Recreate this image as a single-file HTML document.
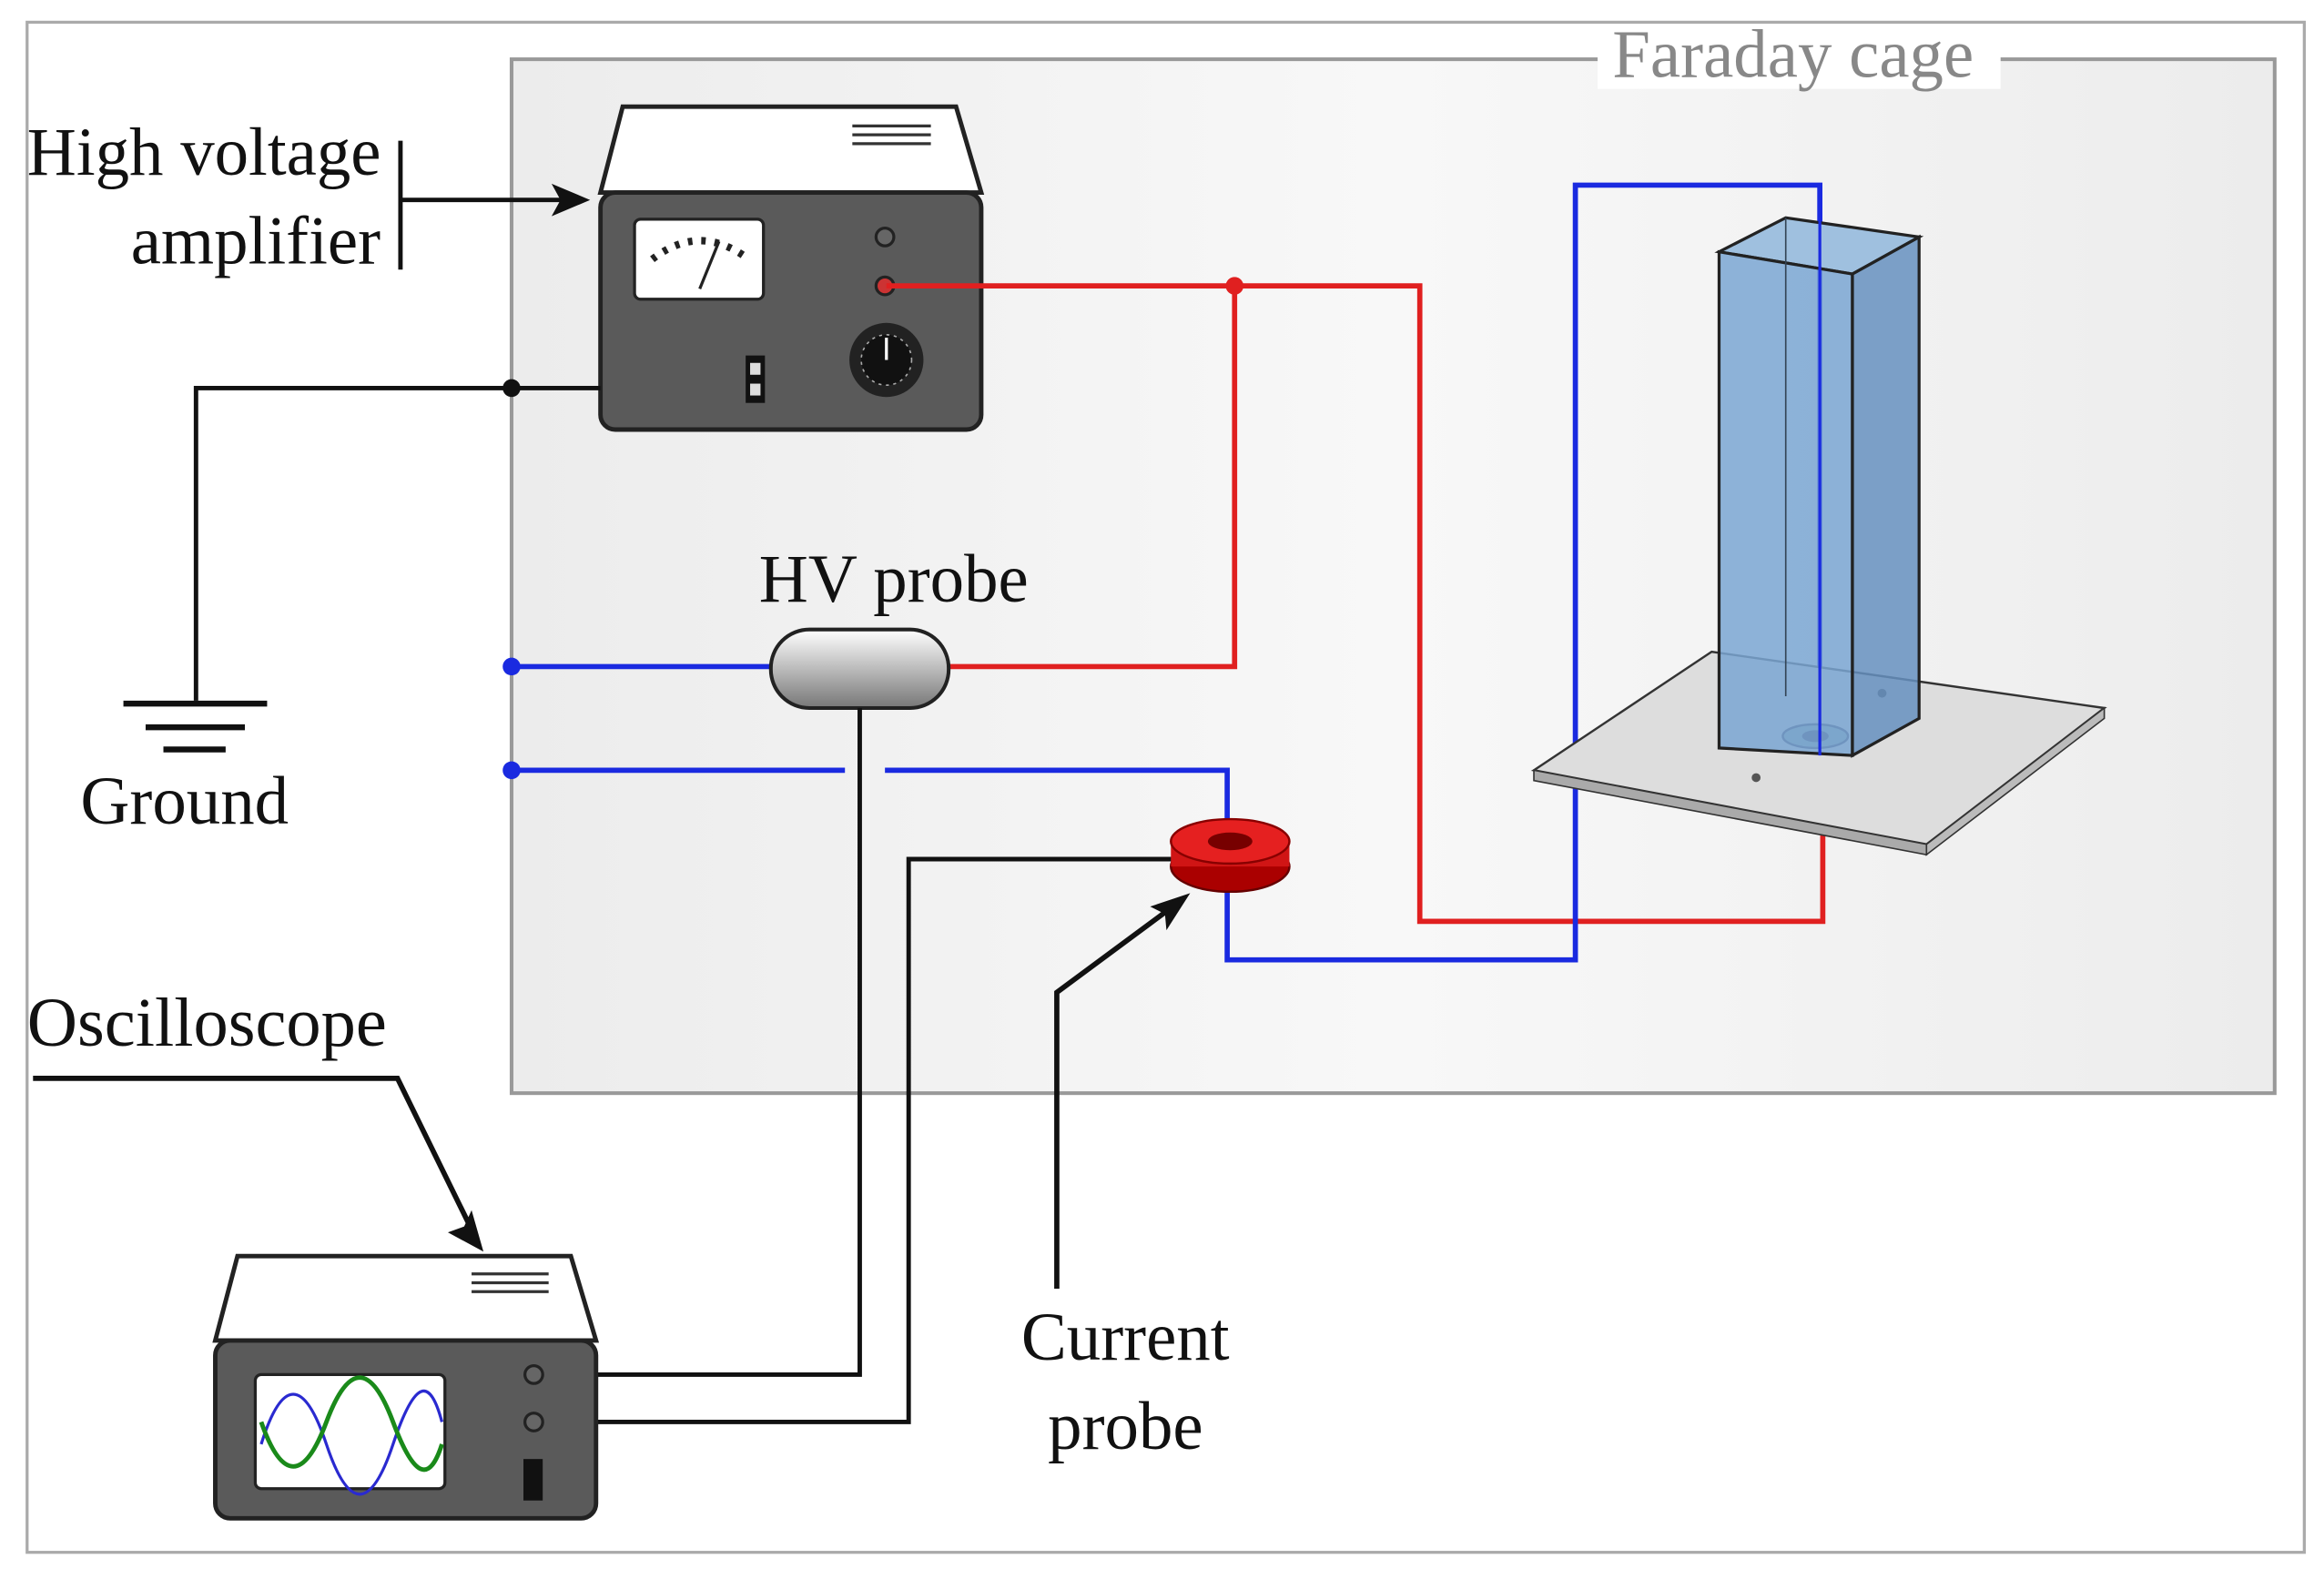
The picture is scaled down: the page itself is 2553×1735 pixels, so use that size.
<!DOCTYPE html>
<html><head><meta charset="utf-8"><style>
html,body{margin:0;padding:0;background:#fff}
svg{display:block}
text{font-family:"Liberation Serif",serif}
</style></head><body>
<svg width="2553" height="1735" viewBox="0 0 1568 1066" xmlns="http://www.w3.org/2000/svg">
<defs>
<linearGradient id="cap" x1="0" y1="0" x2="0" y2="1"><stop offset="0" stop-color="#fff"/><stop offset="1" stop-color="#777"/></linearGradient>
<linearGradient id="cage" x1="0" y1="0" x2="1" y2="0"><stop offset="0" stop-color="#ececec"/><stop offset="0.5" stop-color="#f8f8f8"/><stop offset="1" stop-color="#ececec"/></linearGradient>
</defs>
<rect x="0" y="0" width="1568" height="1066" fill="#fff"/>
<rect x="18" y="15" width="1537" height="1033" fill="none" stroke="#aaa" stroke-width="2"/>
<rect x="345" y="40" width="1190" height="698" fill="url(#cage)" stroke="#999" stroke-width="2.5"/>
<rect x="1078" y="20" width="272" height="40" fill="#fff"/>
<text x="1088" y="52" font-size="46" fill="#888">Faraday cage</text>

<path d="M420 72 L645 72 L662 130 L405 130 Z" fill="#fff" stroke="#222" stroke-width="3"/>
<line x1="575" y1="85" x2="628" y2="85" stroke="#333" stroke-width="2"/>
<line x1="575" y1="91" x2="628" y2="91" stroke="#333" stroke-width="2"/>
<line x1="575" y1="97" x2="628" y2="97" stroke="#333" stroke-width="2"/>
<rect x="405" y="130" width="257" height="160" rx="10" fill="#5a5a5a" stroke="#222" stroke-width="3"/>
<rect x="428" y="148" width="87" height="54" rx="4" fill="#fff" stroke="#222" stroke-width="2"/>
<path d="M440 175 Q472 150 505 175" fill="none" stroke="#222" stroke-width="5" stroke-dasharray="3 6"/>
<line x1="472" y1="195" x2="485" y2="163" stroke="#222" stroke-width="2"/>
<circle cx="597" cy="160" r="6" fill="#666" stroke="#222" stroke-width="2"/>
<circle cx="597" cy="193" r="6" fill="#c33" stroke="#222" stroke-width="2"/>
<circle cx="598" cy="243" r="25" fill="#222"/>
<circle cx="598" cy="243" r="17" fill="#111" stroke="#aaa" stroke-width="1" stroke-dasharray="2 3"/>
<line x1="598" y1="243" x2="598" y2="228" stroke="#fff" stroke-width="2"/>
<rect x="503" y="240" width="13" height="32" fill="#111"/>
<rect x="506" y="245" width="7" height="8" fill="#ddd"/>
<rect x="506" y="259" width="7" height="8" fill="#ddd"/>

<text x="18" y="118" font-size="46" fill="#111">High voltage</text>
<text x="88" y="178" font-size="46" fill="#111">amplifier</text>
<line x1="270" y1="95" x2="270" y2="182" stroke="#111" stroke-width="3"/>
<line x1="270" y1="135" x2="385" y2="135" stroke="#111" stroke-width="3"/>
<path d="M398 135 L372 124 L378 135 L372 146 Z" fill="#111"/>

<polyline points="405,262 132,262 132,473" fill="none" stroke="#111" stroke-width="3"/>
<circle cx="345" cy="262" r="6" fill="#111"/>
<line x1="83" y1="475" x2="180" y2="475" stroke="#111" stroke-width="4"/>
<line x1="98" y1="491" x2="165" y2="491" stroke="#111" stroke-width="4"/>
<line x1="110" y1="506" x2="152" y2="506" stroke="#111" stroke-width="4"/>
<text x="54" y="556" font-size="46" fill="#111">Ground</text>

<polyline points="598,193 958,193 958,622 1230,622 1230,512" fill="none" stroke="#e02020" stroke-width="3.5"/>
<polyline points="833,193 833,450 640,450" fill="none" stroke="#e02020" stroke-width="3.5"/>
<circle cx="833" cy="193" r="6" fill="#e02020"/>

<line x1="345" y1="450" x2="520" y2="450" stroke="#1a2ae0" stroke-width="3.5"/>
<circle cx="345" cy="450" r="6" fill="#1a2ae0"/>
<line x1="345" y1="520" x2="570" y2="520" stroke="#1a2ae0" stroke-width="3.5"/>
<circle cx="345" cy="520" r="6" fill="#1a2ae0"/>
<polyline points="597,520 828,520 828,572" fill="none" stroke="#1a2ae0" stroke-width="3.5"/>
<polyline points="828,600 828,648 1063,648 1063,125 1228,125 1228,510" fill="none" stroke="#1a2ae0" stroke-width="3.5"/>

<text x="512" y="406" font-size="46" fill="#111">HV probe</text>
<rect x="520" y="425" width="120" height="53" rx="26" fill="url(#cap)" stroke="#222" stroke-width="2.5"/>

<polyline points="580,478 580,928 360,928" fill="none" stroke="#111" stroke-width="3"/>
<polyline points="792,580 613,580 613,960 360,960" fill="none" stroke="#111" stroke-width="3"/>

<ellipse cx="830" cy="585" rx="40" ry="17" fill="#a00" stroke="#600" stroke-width="1.5"/>
<rect x="790" y="568" width="80" height="17" fill="#d01515"/>
<ellipse cx="830" cy="568" rx="40" ry="15" fill="#e52020" stroke="#800" stroke-width="1.5"/>
<ellipse cx="830" cy="568" rx="15" ry="6" fill="#700"/>
<polyline points="713,870 713,670 790,613" fill="none" stroke="#111" stroke-width="3.5"/>
<path d="M803 603 L776 612 L786 617 L787 628 Z" fill="#111"/>
<text x="689" y="918" font-size="46" fill="#111">Current</text>
<text x="707" y="978" font-size="46" fill="#111">probe</text>

<text x="18" y="706" font-size="47" fill="#111">Oscilloscope</text>
<polyline points="22,728 268,728 318,830" fill="none" stroke="#111" stroke-width="3.5"/>
<path d="M326 845 L318 817 L313 828 L302 832 Z" fill="#111"/>
<path d="M160 848 L385 848 L402 905 L145 905 Z" fill="#fff" stroke="#222" stroke-width="3"/>
<line x1="318" y1="860" x2="370" y2="860" stroke="#333" stroke-width="2"/>
<line x1="318" y1="866" x2="370" y2="866" stroke="#333" stroke-width="2"/>
<line x1="318" y1="872" x2="370" y2="872" stroke="#333" stroke-width="2"/>
<rect x="145" y="905" width="257" height="120" rx="10" fill="#5a5a5a" stroke="#222" stroke-width="3"/>
<rect x="172" y="928" width="128" height="77" rx="4" fill="#fff" stroke="#222" stroke-width="2"/>
<path d="M176 975 C190 930 205 930 220 975 S250 1020 265 975 S290 930 298 960" fill="none" stroke="#2a2ad0" stroke-width="2"/>
<path d="M176 960 C190 1000 205 1000 220 960 S250 920 265 960 S290 1000 298 975" fill="none" stroke="#1a8a1a" stroke-width="3"/>
<circle cx="360" cy="928" r="6" fill="#666" stroke="#222" stroke-width="2"/>
<circle cx="360" cy="960" r="6" fill="#666" stroke="#222" stroke-width="2"/>
<rect x="353" y="985" width="13" height="28" fill="#111"/>

<polygon points="1035,520 1155,440 1420,478 1300,570" fill="#ddd" stroke="#333" stroke-width="1.5"/>
<polygon points="1035,520 1300,570 1300,577 1035,527" fill="#aaa" stroke="#333" stroke-width="1"/>
<polygon points="1300,570 1420,478 1420,485 1300,577" fill="#bbb" stroke="#333" stroke-width="1"/>
<ellipse cx="1225" cy="497" rx="22" ry="8" fill="#8aa" stroke="#335" stroke-width="1.5"/>
<ellipse cx="1225" cy="497" rx="9" ry="4" fill="#335"/>
<circle cx="1185" cy="525" r="3" fill="#555"/>
<circle cx="1270" cy="468" r="3" fill="#555"/>
<polygon points="1160,170 1205,147 1295,160 1250,185" fill="#9fc0df" stroke="#222" stroke-width="2"/>
<polygon points="1160,170 1250,185 1250,510 1160,505" fill="#7aa6d2" fill-opacity="0.85" stroke="#222" stroke-width="2"/>
<polygon points="1250,185 1295,160 1295,485 1250,510" fill="#6690bf" fill-opacity="0.85" stroke="#222" stroke-width="2"/>
<line x1="1205" y1="147" x2="1205" y2="470" stroke="#345" stroke-width="1"/>
<line x1="1228" y1="125" x2="1228" y2="510" stroke="#1a2ae0" stroke-width="2"/>
</svg>
</body></html>
